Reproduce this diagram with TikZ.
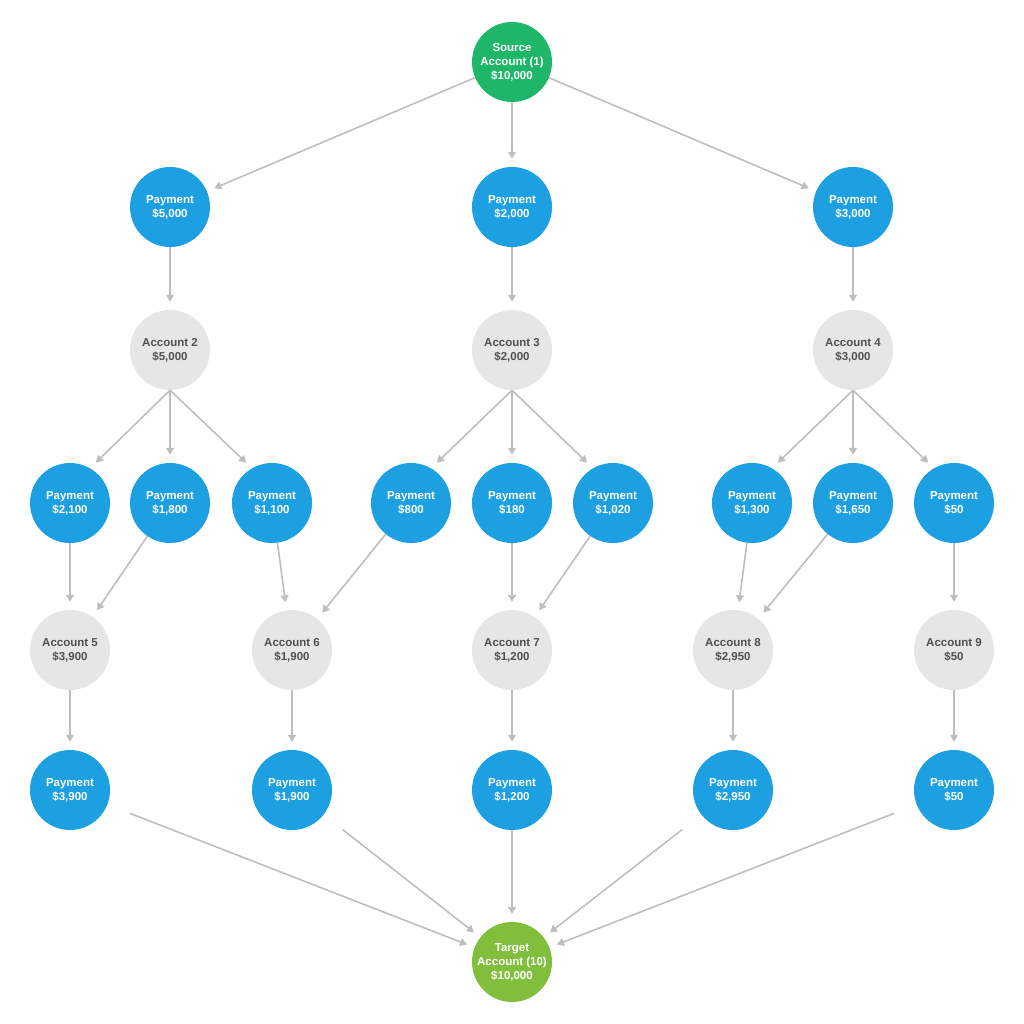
\documentclass[tikz,border=0pt]{standalone}
\usepackage{fontspec}
\setmainfont{Liberation Sans}
\usetikzlibrary{arrows.meta}
\definecolor{payblue}{RGB}{28,160,226}
\definecolor{srcgreen}{RGB}{30,182,105}
\definecolor{tgtgreen}{RGB}{128,190,60}
\definecolor{accgray}{RGB}{230,230,230}
\definecolor{txtgray}{RGB}{80,80,80}
\definecolor{arrgray}{RGB}{190,190,190}

\begin{document}
\begin{tikzpicture}[x=1pt,y=-1pt,
  ball/.style={circle,minimum size=80pt,inner sep=0pt,align=center,
    font=\fontsize{11.5}{14}\selectfont\bfseries},
  pay/.style={ball,fill=payblue,text=white},
  acc/.style={ball,fill=accgray,text=txtgray},
  src/.style={ball,fill=srcgreen,text=white},
  tgt/.style={ball,fill=tgtgreen,text=white},
  flow/.style={draw=arrgray,line width=1.6pt,-{Triangle[width=8pt,length=7pt]},shorten >=8pt},
  far/.style={flow,shorten <=24pt}]

\useasboundingbox (0,0) rectangle (1024,1024);

% top
\node[src] (s) at (512,62) {Source\\Account (1)\\\$10,000};
\node[pay] (p2) at (170,207) {Payment\\\$5,000};
\node[pay] (p3) at (512,207) {Payment\\\$2,000};
\node[pay] (p4) at (853,207) {Payment\\\$3,000};
\node[acc] (a2) at (170,350) {Account 2\\\$5,000};
\node[acc] (a3) at (512,350) {Account 3\\\$2,000};
\node[acc] (a4) at (853,350) {Account 4\\\$3,000};

% middle payments
\node[pay] (q1) at (70,503) {Payment\\\$2,100};
\node[pay] (q2) at (170,503) {Payment\\\$1,800};
\node[pay] (q3) at (272,503) {Payment\\\$1,100};
\node[pay] (q4) at (411,503) {Payment\\\$800};
\node[pay] (q5) at (512,503) {Payment\\\$180};
\node[pay] (q6) at (613,503) {Payment\\\$1,020};
\node[pay] (q7) at (752,503) {Payment\\\$1,300};
\node[pay] (q8) at (853,503) {Payment\\\$1,650};
\node[pay] (q9) at (954,503) {Payment\\\$50};

% lower accounts
\node[acc] (a5) at (70,650) {Account 5\\\$3,900};
\node[acc] (a6) at (292,650) {Account 6\\\$1,900};
\node[acc] (a7) at (512,650) {Account 7\\\$1,200};
\node[acc] (a8) at (733,650) {Account 8\\\$2,950};
\node[acc] (a9) at (954,650) {Account 9\\\$50};

\node[pay] (r5) at (70,790) {Payment\\\$3,900};
\node[pay] (r6) at (292,790) {Payment\\\$1,900};
\node[pay] (r7) at (512,790) {Payment\\\$1,200};
\node[pay] (r8) at (733,790) {Payment\\\$2,950};
\node[pay] (r9) at (954,790) {Payment\\\$50};

\node[tgt] (t) at (512,962) {Target\\Account (10)\\\$10,000};

% connectors
\foreach \a/\b in {s/p2,s/p3,s/p4,p2/a2,p3/a3,p4/a4,
  q1/a5,q2/a5,q3/a6,q4/a6,q5/a7,q6/a7,q7/a8,q8/a8,q9/a9,
  a5/r5,a6/r6,a7/r7,a8/r8,a9/r9,r7/t}
  \draw[flow] (\a) -- (\b);
% fan out below each account
\foreach \a/\l/\m/\r in {a2/q1/q2/q3,a3/q4/q5/q6,a4/q7/q8/q9}{
  \draw[flow] (\a.south) -- (\l.60);
  \draw[flow] (\a.south) -- (\m.north);
  \draw[flow] (\a.south) -- (\r.120);
}
\foreach \a in {r5,r6,r8,r9}
  \draw[far] (\a) -- (t);

\end{tikzpicture}
\end{document}
